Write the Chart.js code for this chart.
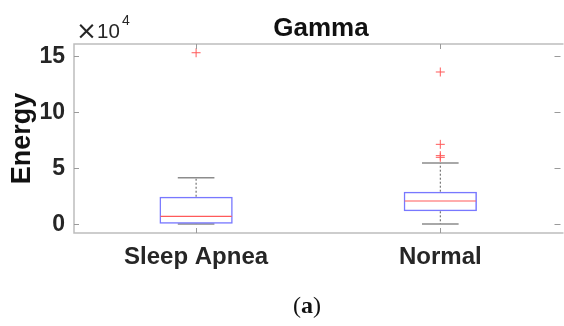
<!DOCTYPE html>
<html>
<head>
<meta charset="utf-8">
<script src="https://cdn.jsdelivr.net/npm/chart.js@4"></script>
<style>
  html, body { margin: 0; padding: 0; background: #fff; }
  canvas { display: block; }
</style>
</head>
<body>
<canvas id="chart" width="564" height="326"></canvas>
<script>
// groups on the x axis (positions 1 and 2)
const groups = ['Sleep Apnea', 'Normal'];

// box plot stats, Energy (raw units, axis shows x10^4)
const whiskerLow  = [200, 300];
const q1          = [600, 11600];
const median      = [7100, 20800];
const q3          = [24600, 29100];
const whiskerHigh = [41600, 54700];
const outliers    = [[153200], [59800, 61300, 71400, 136000]];

const yTicks = [0, 50000, 100000, 150000];

const ink = '#262626';
const frame = '#bdbdbd';

const boxData = groups.map((g, i) => ({ x: i + 1, y: [q1[i], q3[i]] }));
const outlierData = [];
outliers.forEach((list, i) => list.forEach(v => outlierData.push({ x: i + 1, y: v })));

const boxExtras = {
  id: 'boxExtras',
  beforeDatasetsDraw(chart) {
    const { ctx, scales: { x, y } } = chart;
    ctx.save();
    groups.forEach((g, i) => {
      const cx = x.getPixelForValue(i + 1);
      const half = x.getPixelForValue(i + 1.075) - cx;
      // dashed whiskers
      ctx.strokeStyle = 'rgb(90,90,90)';
      ctx.lineWidth = 1;
      ctx.setLineDash([2, 2]);
      ctx.beginPath();
      ctx.moveTo(cx, y.getPixelForValue(q3[i]));
      ctx.lineTo(cx, y.getPixelForValue(whiskerHigh[i]));
      ctx.moveTo(cx, y.getPixelForValue(q1[i]));
      ctx.lineTo(cx, y.getPixelForValue(whiskerLow[i]));
      ctx.stroke();
      // caps
      ctx.setLineDash([]);
      ctx.strokeStyle = 'rgb(140,140,140)';
      ctx.lineWidth = 1.5;
      ctx.beginPath();
      [whiskerHigh[i], whiskerLow[i]].forEach(v => {
        const py = y.getPixelForValue(v);
        ctx.moveTo(cx - half, py);
        ctx.lineTo(cx + half, py);
      });
      ctx.stroke();
    });
    ctx.restore();
  },
  afterDatasetsDraw(chart) {
    const { ctx, chartArea: a, scales: { x, y } } = chart;
    ctx.save();
    // medians
    ctx.strokeStyle = 'rgb(255,90,90)';
    ctx.lineWidth = 1.2;
    groups.forEach((g, i) => {
      const cx = x.getPixelForValue(i + 1);
      const half = x.getPixelForValue(i + 1.15) - cx;
      const py = y.getPixelForValue(median[i]);
      ctx.beginPath();
      ctx.moveTo(cx - half + 1, py);
      ctx.lineTo(cx + half - 1, py);
      ctx.stroke();
    });
    // axes box (right edge is off the canvas)
    ctx.strokeStyle = frame;
    ctx.lineWidth = 1.5;
    ctx.beginPath();
    ctx.moveTo(a.right + 5, a.top);
    ctx.lineTo(a.left, a.top);
    ctx.lineTo(a.left, a.bottom);
    ctx.lineTo(a.right + 5, a.bottom);
    ctx.stroke();
    // inward ticks
    ctx.strokeStyle = '#9a9a9a';
    ctx.lineWidth = 1;
    ctx.beginPath();
    yTicks.forEach(v => {
      const py = Math.round(y.getPixelForValue(v)) + 0.5;
      ctx.moveTo(a.left, py); ctx.lineTo(a.left + 5, py);
      ctx.moveTo(a.right + 2, py); ctx.lineTo(a.right - 4, py);
    });
    groups.forEach((g, i) => {
      const px = Math.round(x.getPixelForValue(i + 1)) + 0.5;
      ctx.moveTo(px, a.bottom); ctx.lineTo(px, a.bottom - 5);
      ctx.moveTo(px, a.top); ctx.lineTo(px, a.top + 5);
    });
    ctx.stroke();

    // title
    ctx.fillStyle = '#111';
    ctx.font = 'bold 26px "Liberation Sans", Arial, sans-serif';
    ctx.textAlign = 'center';
    ctx.textBaseline = 'alphabetic';
    ctx.fillText('Gamma', 321, 35.5);

    // exponent label
    ctx.fillStyle = ink;
    ctx.textAlign = 'left';
    ctx.font = '25px "DejaVu Sans", sans-serif';
    ctx.fillText('\u00d7', 76, 38.5);
    ctx.font = '20.5px "Liberation Sans", Arial, sans-serif';
    ctx.fillText('10', 97, 38.3);
    ctx.font = '14px "Liberation Sans", Arial, sans-serif';
    ctx.fillText('4', 122, 25);

    // caption (a)
    ctx.fillStyle = '#111';
    ctx.font = '24px "Liberation Serif", serif';
    const wp = ctx.measureText('(').width;
    ctx.font = 'bold 24px "Liberation Serif", serif';
    const wa = ctx.measureText('a').width;
    const total = wp * 2 + wa;
    let cx = 307 - total / 2;
    ctx.font = '24px "Liberation Serif", serif';
    ctx.fillText('(', cx, 313);
    ctx.font = 'bold 24px "Liberation Serif", serif';
    ctx.fillText('a', cx + wp, 313);
    ctx.font = '24px "Liberation Serif", serif';
    ctx.fillText(')', cx + wp + wa, 313);
    ctx.restore();
  }
};

new Chart(document.getElementById('chart'), {
  type: 'bar',
  data: {
    datasets: [
      {
        type: 'bar',
        data: boxData,
        backgroundColor: 'rgba(0,0,0,0)',
        borderColor: 'rgb(120,120,255)',
        borderWidth: 1.5,
        borderSkipped: false,
        barPercentage: 0.3,
        categoryPercentage: 1
      },
      {
        type: 'line',
        data: outlierData,
        showLine: false,
        pointStyle: 'cross',
        pointRadius: 4.5,
        pointBorderColor: 'rgb(255,90,90)',
        pointBorderWidth: 1,
        pointBackgroundColor: 'rgb(255,90,90)'
      }
    ]
  },
  options: {
    responsive: false,
    animation: false,
    layout: { padding: { top: 44, left: 0, right: 0, bottom: 0 } },
    plugins: {
      legend: { display: false },
      tooltip: { enabled: false }
    },
    scales: {
      x: {
        type: 'linear',
        min: 0.5,
        max: 2.484,
        offset: false,
        grid: { display: false, drawTicks: false, offset: false },
        border: { display: false },
        afterBuildTicks: s => { s.ticks = groups.map((g, i) => ({ value: i + 1 })); },
        afterFit: s => { s.height = 93; },
        ticks: {
          padding: 10,
          color: ink,
          font: { family: '"Liberation Sans", Arial, sans-serif', size: 24, weight: 'bold' },
          callback: v => groups[v - 1]
        }
      },
      y: {
        min: -7770,
        max: 161000,
        grid: { display: false, drawTicks: false },
        border: { display: false },
        afterBuildTicks: s => { s.ticks = yTicks.map(v => ({ value: v })); },
        afterFit: s => { s.width = 74; },
        ticks: {
          padding: 9,
          color: ink,
          font: { family: '"Liberation Sans", Arial, sans-serif', size: 23, weight: 'bold' },
          callback: v => v / 10000
        },
        title: {
          display: true,
          text: 'Energy',
          color: '#111',
          padding: { top: 6, bottom: 0 },
          font: { family: '"Liberation Sans", Arial, sans-serif', size: 27, weight: 'bold' }
        }
      }
    }
  },
  plugins: [boxExtras]
});
</script>
</body>
</html>
